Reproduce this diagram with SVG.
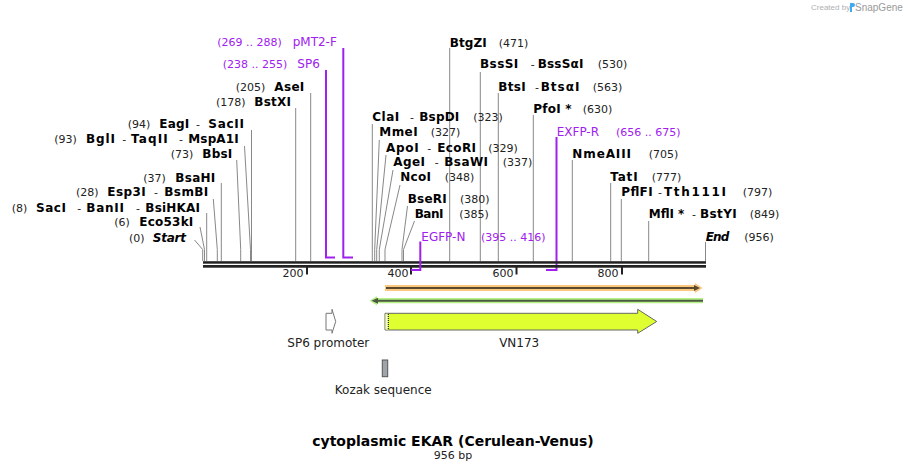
<svg xmlns="http://www.w3.org/2000/svg" width="908" height="471" viewBox="0 0 908 471">
<style>
text{font-family:"DejaVu Sans","Verdana",sans-serif}
.b{font-weight:bold;font-size:12px;fill:#000}
.bi{font-weight:bold;font-style:italic;font-size:12px;fill:#000}
.r{font-size:11px;fill:#222}
.p{font-size:12px;fill:#a020f0}
.pn{font-size:11px;fill:#a020f0}
.f{font-size:12px;fill:#222}
.t{font-size:11px;fill:#222}
.cut{fill:none;stroke:#888;stroke-width:1}
.pr{fill:none;stroke:#a020f0;stroke-width:2}
</style>
<rect width="908" height="471" fill="#fff"/>
<g id="watermark">
<text x="811" y="10" style="font-size:8px;fill:#b0b0b0;font-family:'Liberation Sans',sans-serif">Created by</text>
<path d="M850,3 h3 a2,2 0 0 1 0,4 h-1 v5 h-2 z" fill="#3fa9f5"/>
<text x="855" y="11" style="font-size:10px;fill:#9a9a9a;font-family:'Liberation Sans',sans-serif">SnapGene</text>
</g>
<g id="connectors">
<polyline class="cut" points="194.5,240 202.7,249.5 202.7,261"/>
<polyline class="cut" points="200,227 204.5,249.5 204.5,261"/>
<polyline class="cut" points="206.7,213 206.7,261"/>
<polyline class="cut" points="213.3,199 217.3,249.5 217.3,261"/>
<polyline class="cut" points="221.3,183 221.3,261"/>
<polyline class="cut" points="236.7,160 240.7,249.5 240.7,261"/>
<polyline class="cut" points="244.5,146 250.5,249.5 250.5,261"/>
<polyline class="cut" points="251.5,130 251.5,261"/>
<polyline class="cut" points="295.7,108 295.7,261"/>
<polyline class="cut" points="310.7,93 310.7,261"/>
<polyline class="cut" points="372.3,124 372.3,261"/>
<polyline class="cut" points="379.3,140 374.7,249.5 374.7,261"/>
<polyline class="cut" points="386,155 376.7,249.5 376.7,261"/>
<polyline class="cut" points="393,170 379.3,249.5 379.3,261"/>
<polyline class="cut" points="400,185 385,249.5 385,261"/>
<polyline class="cut" points="407.5,206 402,249.5 402,261"/>
<polyline class="cut" points="414.5,221 403.5,249.5 403.5,261"/>
<polyline class="cut" points="449.7,48 449.7,261"/>
<polyline class="cut" points="480.3,72 480.3,261"/>
<polyline class="cut" points="498.3,93 498.3,261"/>
<polyline class="cut" points="533.3,115 533.3,261"/>
<polyline class="cut" points="572.3,160 572.3,261"/>
<polyline class="cut" points="610.7,183 610.7,261"/>
<polyline class="cut" points="621.3,199 621.3,261"/>
<polyline class="cut" points="648.7,221 648.7,261"/>
<polyline class="cut" points="705.5,242 705.5,261"/>
<polyline class="pr" points="326,70 326,257.5 335,257.5"/>
<polyline class="pr" points="343.3,48 343.3,257.5 353,257.5"/>
<polyline class="pr" points="556.5,137 556.5,270 546,270"/>
</g>
<g id="backbone">
<rect x="203" y="261.2" width="503" height="2.5" fill="#222"/>
<rect x="203" y="265" width="503" height="2.7" fill="#222"/>
<rect x="306" y="267" width="2" height="7.5" fill="#222"/>
<rect x="410" y="267" width="2" height="7.5" fill="#222"/>
<rect x="515.5" y="267" width="2" height="7.5" fill="#222"/>
<rect x="621" y="267" width="2" height="7.5" fill="#222"/>
<text class="t" x="303.5" y="277" text-anchor="end">200</text>
<text class="t" x="408.5" y="277" text-anchor="end">400</text>
<text class="t" x="513.5" y="277" text-anchor="end">600</text>
<text class="t" x="618.5" y="277" text-anchor="end">800</text>
</g>
<polyline class="pr" points="420.3,241.5 420.3,270 411,270"/>
<g id="primer-pMT2-F"><text y="46"><tspan class="pn" x="217.3">(269 .. 288)</tspan><tspan class="p" x="292.7">pMT2-F</tspan></text></g>
<g id="primer-SP6"><text y="68"><tspan class="pn" x="222.7">(238 .. 255)</tspan><tspan class="p" x="297.3">SP6</tspan></text></g>
<g id="primer-EXFP-R"><text y="136"><tspan class="p" x="556.7">EXFP-R</tspan><tspan class="pn" x="616">(656 .. 675)</tspan></text></g>
<g id="primer-EGFP-N"><text y="241"><tspan class="p" x="421.3">EGFP-N</tspan><tspan class="pn" x="481">(395 .. 416)</tspan></text></g>
<g id="site-AseI"><text y="91"><tspan class="r" x="235.7">(205)</tspan><tspan class="b" x="274.3" textLength="30">AseI</tspan></text></g>
<g id="site-BstXI"><text y="106"><tspan class="r" x="216">(178)</tspan><tspan class="b" x="254.3" textLength="36.7">BstXI</tspan></text></g>
<g id="site-EagI"><text y="128"><tspan class="r" x="127.7">(94)</tspan><tspan class="b" x="159.3" textLength="30">EagI</tspan><tspan class="r" x="196">-</tspan><tspan class="b" x="208.3" textLength="35.7">SacII</tspan></text></g>
<g id="site-BglI"><text y="143"><tspan class="r" x="54.3">(93)</tspan><tspan class="b" x="86" textLength="29">BglI</tspan><tspan class="r" x="122.3">-</tspan><tspan class="b" x="131" textLength="36.7">TaqII</tspan><tspan class="r" x="179">-</tspan><tspan class="b" x="188.3" textLength="50.4">MspA1I</tspan></text></g>
<g id="site-BbsI"><text y="158"><tspan class="r" x="170.7">(73)</tspan><tspan class="b" x="202.3" textLength="30">BbsI</tspan></text></g>
<g id="site-BsaHI"><text y="182"><tspan class="r" x="143.3">(37)</tspan><tspan class="b" x="175.3" textLength="40">BsaHI</tspan></text></g>
<g id="site-Esp3I"><text y="196"><tspan class="r" x="76">(28)</tspan><tspan class="b" x="107.3" textLength="38.3">Esp3I</tspan><tspan class="r" x="154">-</tspan><tspan class="b" x="164.3" textLength="44">BsmBI</tspan></text></g>
<g id="site-SacI"><text y="211.5"><tspan class="r" x="11.7">(8)</tspan><tspan class="b" x="36" textLength="30">SacI</tspan><tspan class="r" x="77.3">-</tspan><tspan class="b" x="86.3" textLength="37.7">BanII</tspan><tspan class="r" x="136">-</tspan><tspan class="b" x="145.3" textLength="54.7">BsiHKAI</tspan></text></g>
<g id="site-Eco53kI"><text y="226"><tspan class="r" x="114.3">(6)</tspan><tspan class="b" x="139.3" textLength="54">Eco53kI</tspan></text></g>
<g id="site-Start"><text y="241.5"><tspan class="r" x="129">(0)</tspan><tspan class="bi" x="152.7" textLength="33.3">Start</tspan></text></g>
<g id="site-BtgZI"><text y="46.5"><tspan class="b" x="449.7" textLength="37">BtgZI</tspan><tspan class="r" x="498.7">(471)</tspan></text></g>
<g id="site-BssSI"><text y="68"><tspan class="b" x="480" textLength="38.3">BssSI</tspan><tspan class="r" x="530.7">-</tspan><tspan class="b" x="537.7" textLength="45.7">BssSαI</tspan><tspan class="r" x="597.7">(530)</tspan></text></g>
<g id="site-BtsI"><text y="91"><tspan class="b" x="498.3" textLength="27.3">BtsI</tspan><tspan class="r" x="535">-</tspan><tspan class="b" x="540.7" textLength="38.7">BtsαI</tspan><tspan class="r" x="592.7">(563)</tspan></text></g>
<g id="site-PfoI"><text y="113"><tspan class="b" x="533.3" textLength="38.3">PfoI *</tspan><tspan class="r" x="582.7">(630)</tspan></text></g>
<g id="site-ClaI"><text y="121"><tspan class="b" x="372.3" textLength="27">ClaI</tspan><tspan class="r" x="410">-</tspan><tspan class="b" x="419.3" textLength="40">BspDI</tspan><tspan class="r" x="473.3">(323)</tspan></text></g>
<g id="site-MmeI"><text y="136"><tspan class="b" x="379.3" textLength="38.3">MmeI</tspan><tspan class="r" x="430.7">(327)</tspan></text></g>
<g id="site-ApoI"><text y="151.5"><tspan class="b" x="386" textLength="32.7">ApoI</tspan><tspan class="r" x="427.3">-</tspan><tspan class="b" x="437.3" textLength="38.7">EcoRI</tspan><tspan class="r" x="488.3">(329)</tspan></text></g>
<g id="site-NmeAIII"><text y="158"><tspan class="b" x="572.3" textLength="58.7">NmeAIII</tspan><tspan class="r" x="648.7">(705)</tspan></text></g>
<g id="site-AgeI"><text y="166"><tspan class="b" x="393.3" textLength="31.7">AgeI</tspan><tspan class="r" x="434.7">-</tspan><tspan class="b" x="444.3" textLength="43.7">BsaWI</tspan><tspan class="r" x="502.7">(337)</tspan></text></g>
<g id="site-NcoI"><text y="181"><tspan class="b" x="400.3" textLength="30.7">NcoI</tspan><tspan class="r" x="444.7">(348)</tspan></text></g>
<g id="site-TatI"><text y="181"><tspan class="b" x="610.3" textLength="27.3">TatI</tspan><tspan class="r" x="651.7">(777)</tspan></text></g>
<g id="site-PflFI"><text y="196"><tspan class="b" x="621.3" textLength="31.3">PflFI</tspan><tspan class="r" x="658">-</tspan><tspan class="b" x="664" textLength="62">Tth111I</tspan><tspan class="r" x="742.7">(797)</tspan></text></g>
<g id="site-BseRI"><text y="203"><tspan class="b" x="407.7" textLength="39">BseRI</tspan><tspan class="r" x="460">(380)</tspan></text></g>
<g id="site-BanI"><text y="217.5"><tspan class="b" x="414.7" textLength="28.7">BanI</tspan><tspan class="r" x="459.3">(385)</tspan></text></g>
<g id="site-MflI"><text y="218"><tspan class="b" x="648.7" textLength="35.7">MflI *</tspan><tspan class="r" x="692">-</tspan><tspan class="b" x="700" textLength="36.7">BstYI</tspan><tspan class="r" x="749.7">(849)</tspan></text></g>
<g id="site-End"><text y="241"><tspan class="bi" x="705.7" textLength="23.7">End</tspan><tspan class="r" x="744.3">(956)</tspan></text></g>
<g id="feature-orange">
<path d="M385,285 H695 V283 L702.5,288 L695,293 V291 H385 Z" fill="#fcc880"/>
<line x1="386" y1="288" x2="695" y2="288" stroke="#5a4a30" stroke-width="2"/>
<path d="M694,285 L700,288 L694,291 Z" fill="#5a4a30"/>
</g>
<g id="feature-green">
<path d="M703,298 H377 V296 L369.5,300.7 L377,305.5 V303.3 H703 Z" fill="#b8f088"/>
<line x1="376" y1="300.7" x2="703" y2="300.7" stroke="#4a5a40" stroke-width="2"/>
<path d="M378,297.7 L371.5,300.7 L378,303.7 Z" fill="#4a5a40"/>
</g>
<g id="feature-SP6-promoter">
<path d="M326,313.3 H332 V309.3 L335.7,321.5 L332,333.3 V330 H326 Z" fill="#fff" stroke="#777" stroke-width="1"/>
<text class="f" x="328.3" y="347" text-anchor="middle">SP6 promoter</text>
</g>
<g id="feature-VN173">
<path d="M385,313.3 H637.7 V309.3 L656.7,321.5 L637.7,333.3 V330 H385 Z" fill="#e0ff30" stroke="#666" stroke-width="1"/>
<rect x="385.5" y="313.8" width="2.6" height="15.7" fill="#f4f8c8"/>
<line x1="388.3" y1="314" x2="388.3" y2="329.5" stroke="#000" stroke-width="1" stroke-dasharray="1,1"/>
<text class="f" x="519.2" y="347" text-anchor="middle">VN173</text>
</g>
<g id="feature-Kozak">
<rect x="382.3" y="360" width="5.4" height="16.7" fill="#a0a5ab" stroke="#555" stroke-width="1"/>
<text class="f" x="383.2" y="394" text-anchor="middle">Kozak sequence</text>
</g>
<g id="title">
<text x="453" y="445.5" text-anchor="middle" style="font-weight:bold;font-size:14px;fill:#000">cytoplasmic EKAR (Cerulean-Venus)</text>
<text x="453" y="458.5" text-anchor="middle" style="font-size:11px;fill:#222">956 bp</text>
</g>
</svg>
